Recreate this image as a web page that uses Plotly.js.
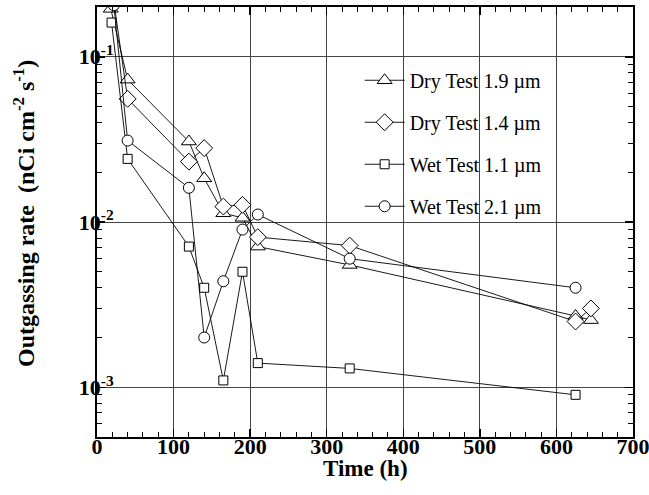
<!DOCTYPE html>
<html>
<head>
<meta charset="utf-8">
<script src="https://cdn.plot.ly/plotly-3.0.1.min.js"></script>
<style>html,body{margin:0;padding:0;background:#fff;}#chart{width:649px;height:495px;}</style>
</head>
<body>
<div id="chart"></div>
<script>
// Data
var seriesNames = ["Dry Test 1.9 \u00b5m", "Dry Test 1.4 \u00b5m", "Wet Test 1.1 \u00b5m", "Wet Test 2.1 \u00b5m"];
var dry19Time = [18, 40, 120, 140, 165, 190, 210, 330, 625, 645];
var dry19Rate = [0.195, 0.0727, 0.0307, 0.0184, 0.0113, 0.0106, 0.0071, 0.0055, 0.0027, 0.00255];
var dry14Time = [22, 40, 120, 140, 165, 190, 210, 330, 625, 645];
var dry14Rate = [0.215, 0.0556, 0.0232, 0.028, 0.0124, 0.0127, 0.0081, 0.0072, 0.0025, 0.003];
var wet11Time = [19, 40, 120, 140, 165, 190, 210, 330, 625];
var wet11Rate = [0.161, 0.0241, 0.0071, 0.0040, 0.0011, 0.0050, 0.0014, 0.0013, 0.0009];
var wet21Time = [22, 40, 120, 140, 165, 190, 210, 330, 625];
var wet21Rate = [0.205, 0.0311, 0.0161, 0.0020, 0.00438, 0.0090, 0.0111, 0.0060, 0.0040];
var yTickVals = [0.001, 0.01, 0.1];
var yTickText = ["10<sup>-3</sup>", "10<sup>-2</sup>", "10<sup>-1</sup>"];
var xTickVals = [0, 100, 200, 300, 400, 500, 600, 700];
var xTitle = 'Time (h)';
var yTitle = 'Outgassing rate\u00a0 (nCi cm<sup>-2</sup> s<sup>-1</sup>)';

var serif = "'Liberation Serif', 'Times New Roman', Times, serif";
function mk(name, x, y, symbol, size, grp) {
  return {
    type: 'scatter', mode: 'lines+markers', name: name, x: x, y: y,
    legendgroup: grp,
    line: {color: '#000', width: 0.9},
    marker: {symbol: symbol, size: size, color: '#fff', line: {color: '#000', width: 1}},
    cliponaxis: true
  };
}
var data = [
  mk(seriesNames[0], dry19Time, dry19Rate, 'triangle-up', 13, 'a'),
  mk(seriesNames[1], dry14Time, dry14Rate, 'diamond', 13, 'b'),
  mk(seriesNames[2], wet11Time, wet11Rate, 'square', 9, 'c'),
  mk(seriesNames[3], wet21Time, wet21Rate, 'circle', 11, 'd')
];
var gridc = '#444';
var titleFont = {family: serif, size: 24, color: '#000', weight: 'bold'};
var layout = {
  width: 649, height: 495,
  margin: {l: 97, r: 16, t: 7, b: 58},
  paper_bgcolor: '#fff', plot_bgcolor: '#fff',
  showlegend: true,
  legend: {
    x: 0.49, y: 0.875, xanchor: 'left', yanchor: 'top',
    bgcolor: 'rgba(0,0,0,0)', borderwidth: 0,
    font: {family: serif, size: 20, color: '#000'},
    traceorder: 'grouped', tracegroupgap: 13, itemwidth: 40
  },
  xaxis: {
    range: [0, 700], tickmode: 'array', tickvals: xTickVals,
    showgrid: true, gridcolor: gridc, gridwidth: 1,
    zeroline: false,
    showline: true, linecolor: '#000', linewidth: 2, mirror: 'ticks',
    ticks: 'inside', ticklen: 8, tickcolor: '#000', tickwidth: 1.5,
    minor: {dtick: 20, ticks: 'inside', ticklen: 5, tickcolor: '#000', tickwidth: 1, showgrid: false},
    tickfont: {family: serif, size: 22, color: '#000', weight: 'bold'},
    ticklabelstandoff: -11,
    ticklabeloverflow: 'allow'
  },
  yaxis: {
    type: 'log', range: [Math.log10(5e-4), Math.log10(0.2)],
    tickmode: 'array', tickvals: yTickVals, ticktext: yTickText,
    showgrid: true, gridcolor: gridc, gridwidth: 1,
    zeroline: false,
    showline: true, linecolor: '#000', linewidth: 2, mirror: 'ticks',
    ticks: 'inside', ticklen: 8, tickcolor: '#000', tickwidth: 1.5,
    minor: {dtick: 'D1', ticks: 'inside', ticklen: 5, tickcolor: '#000', tickwidth: 1, showgrid: false},
    tickfont: {family: serif, size: 22, color: '#000', weight: 'bold'},
    ticklabelstandoff: -23,
    ticklabeloverflow: 'allow'
  },
  annotations: [
    {text: xTitle, xref: 'paper', yref: 'paper', x: 0.5, y: -0.073, xanchor: 'center', yanchor: 'middle',
     showarrow: false, font: {family: serif, size: 23, color: '#000', weight: 'bold'}},
    {text: yTitle, xref: 'paper', yref: 'paper', x: -0.135, y: 0.52, xanchor: 'center', yanchor: 'middle',
     textangle: -90, showarrow: false, font: titleFont}
  ]
};
Plotly.newPlot('chart', data, layout, {displayModeBar: false, staticPlot: true});
</script>
</body>
</html>
